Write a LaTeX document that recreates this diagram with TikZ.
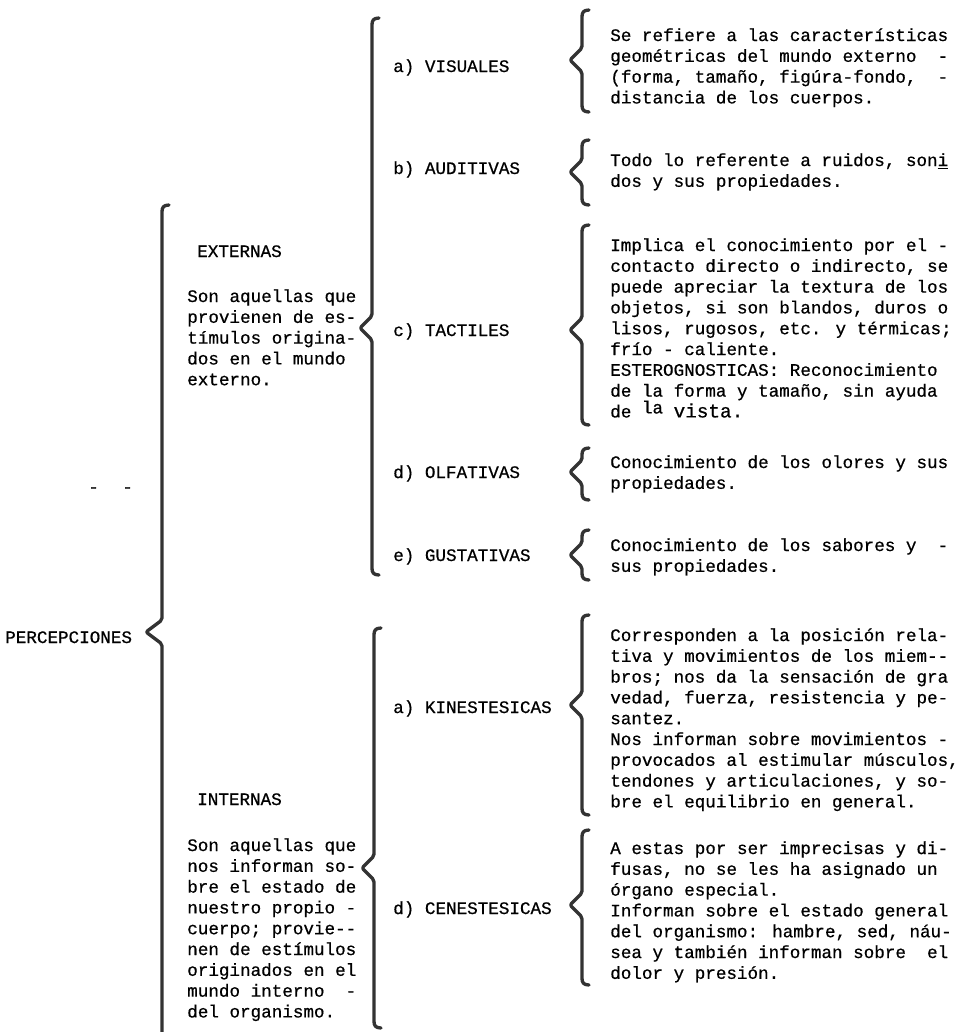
\documentclass[tikz,border=0pt]{standalone}
\usepackage{fontspec}
\newfontfamily\tw[FakeBold=0.6]{Liberation Mono}
\newcommand\twsize{\fontsize{13.2}{15.6}\selectfont}
\newcommand\drawcbrace[5]{% x, top, tip y, bottom, tip x
  \draw[brc] (#1+7,#2) .. controls (#1+1,#2) and (#1,#2+3) .. (#1,#2+9)
    -- (#1,#3-12) -- (#5,#3) -- (#1,#3+12) -- (#1,#4-9)
    .. controls (#1,#4-3) and (#1+1,#4) .. (#1+7,#4);}
\tikzset{
  brc/.style={line width=2.5pt, draw=black!80, line cap=round, line join=round, rounded corners=1.5pt},
  txt/.style={font=\tw\twsize, inner sep=0pt, anchor=north west, align=left, text=black},
}
\begin{document}
\begin{tikzpicture}[x=0.75pt,y=-0.75pt]
\useasboundingbox (0,0) rectangle (967,1032);
\fill[white] (0,0) rectangle (967,1032);

% root
\node[txt] (perc) at (5,631) {PERCEPCIONES};
\drawcbrace{162}{205}{632}{1040}{146}

% left column
\node[txt] (ext) at (197,245) {EXTERNAS};
\node[txt] (extd) at (187,289) {Son aquellas que\\provienen de es-\\tímulos origina-\\dos en el mundo\\externo.};
\node[txt] (int) at (197,793) {INTERNAS};
\node[txt] (intd) at (187,838) {Son aquellas que\\nos informan so-\\bre el estado de\\nuestro propio -\\cuerpo; provie-{}-\\nen de estímulos\\originados en el\\mundo interno~~-\\del organismo.};

\drawcbrace{372}{18}{328}{575}{360}
\drawcbrace{374}{628}{868}{1028}{362}

% middle column
\node[txt] (vis) at (393,59) {a)~VISUALES};
\node[txt] (aud) at (393,161) {b)~AUDITIVAS};
\node[txt] (tac) at (393,323) {c)~TACTILES};
\node[txt] (olf) at (393,465) {d)~OLFATIVAS};
\node[txt] (gus) at (393,548) {e)~GUSTATIVAS};
\node[txt] (kin) at (393,700) {a)~KINESTESICAS};
\node[txt] (cen) at (393,901) {d)~CENESTESICAS};

% right braces
\drawcbrace{582}{10}{60}{112}{570}
\drawcbrace{582}{140}{172}{205}{570}
\drawcbrace{582}{225}{330}{425}{570}
\drawcbrace{582}{448}{472}{500}{570}
\drawcbrace{582}{530}{555}{580}{570}
\drawcbrace{582}{615}{705}{815}{570}
\drawcbrace{582}{830}{905}{985}{570}

% right column
\node[txt] (visd) at (610,28) {Se refiere a las características\\geométricas del mundo externo~~-\\(forma, tamaño, figúra-fondo,~~-\\distancia de los cuerpos.};
\node[txt] (audd) at (610,153) {Todo lo referente a ruidos, son\underline{i}\\dos y sus propiedades.};
\node[txt] (tacd) at (610,238) {Implica el conocimiento por el -\\contacto directo o indirecto, se\\puede apreciar la textura de los\\objetos, si son blandos, duros o\\lisos, rugosos, etc. y térmicas;\\frío - caliente.\\ESTEROGNOSTICAS: Reconocimiento\\de la forma y tamaño, sin ayuda\\de \raisebox{3pt}{la} {\fontsize{14.5}{15.6}\selectfont vista.}};
\node[txt] (olfd) at (610,455) {Conocimiento de los olores y sus\\propiedades.};
\node[txt] (gusd) at (610,538) {Conocimiento de los sabores y~~-\\sus propiedades.};
\node[txt] (kind) at (610,628) {Corresponden a la posición rela-\\tiva y movimientos de los miem-{}-\\bros; nos da la sensación de gra\\vedad, fuerza, resistencia y pe-\\santez.\\Nos informan sobre movimientos -\\provocados al estimular músculos,\\tendones y articulaciones, y so-\\bre el equilibrio en general.};
\node[txt] (cend) at (610,841) {A estas por ser imprecisas y di-\\fusas, no se les ha asignado un\\órgano especial.\\Informan sobre el estado general\\del organismo: hambre, sed, náu-\\sea y también informan sobre~~el\\dolor y presión.};

% stray marks
\node[txt] (m1) at (88,487) {-};
\node[txt] (m2) at (122,487) {-};
\end{tikzpicture}
\end{document}
